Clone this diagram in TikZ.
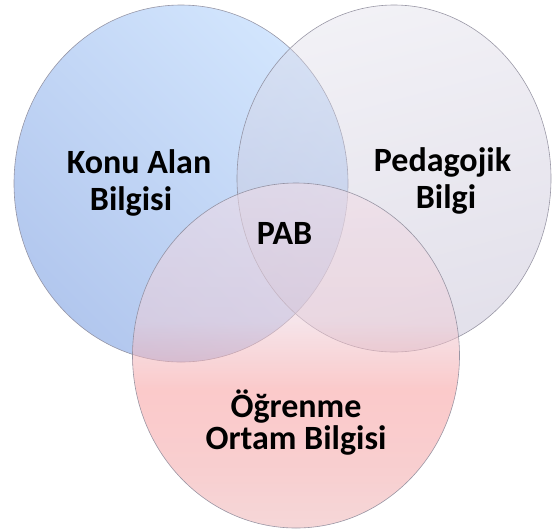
\documentclass[tikz,border=0pt]{standalone}
\usepackage{fontspec}
\setmainfont{Carlito}
\usetikzlibrary{shapes.geometric}
\definecolor{blueLo}{HTML}{B2C7EE}
\definecolor{blueHi}{HTML}{D2E5FD}
\definecolor{grayTop}{HTML}{DEDCE8}
\definecolor{grayBot}{HTML}{B8B2CC}
\definecolor{pinkTop}{HTML}{F0DCE6}
\definecolor{pinkUp}{HTML}{EECED8}
\definecolor{pinkMid}{HTML}{F79E9F}
\definecolor{pinkLow}{HTML}{F3A6A8}
\definecolor{pinkBot}{HTML}{EDB6B8}
\definecolor{ringline}{HTML}{8A8898}
% vertical fill of the learning-environment disc: pale in the overlaps,
% saturated pink just below them, softer again at the bottom
\pgfdeclareverticalshading{pinkfade}{100bp}{%
  color(0bp)=(pinkBot); color(25bp)=(pinkBot); color(34bp)=(pinkLow);
  color(45bp)=(pinkMid); color(55bp)=(pinkUp); color(75bp)=(pinkTop);
  color(100bp)=(pinkTop)}
\begin{document}
\begin{tikzpicture}[x=1pt,y=-1pt,
  setdisc/.style={ellipse, inner sep=0pt, outer sep=0pt,
    draw=ringline, draw opacity=0.85, line width=0.6pt},
  lbl/.style={font=\bfseries\fontsize{34}{40}\selectfont, anchor=base,
    inner sep=0pt, text=black}]
\useasboundingbox (0,0) rectangle (553,531);

% the three knowledge domains
\node[setdisc, minimum width=334pt, minimum height=357pt,
      top color=blueHi, bottom color=blueLo, shading angle=-45]
      (content) at (181,183.5) {};
\node[setdisc, minimum width=314pt, minimum height=347pt,
      top color=grayTop, bottom color=grayBot, shading angle=15,
      fill opacity=0.4]
      (pedagogy) at (394,178.5) {};
\node[setdisc, minimum width=327pt, minimum height=345pt,
      shade, shading=pinkfade, fill opacity=0.55]
      (environment) at (296,355.5) {};

% labels
\node[lbl] (contentA) at (139,173) {Konu Alan};
\node[lbl] (contentB) at (131,210) {Bilgisi};
\node[lbl] (pedagogyA) at (442.5,171) {Pedagojik};
\node[lbl] (pedagogyB) at (446,208) {Bilgi};
\node[lbl] (core) at (284.5,244) {PAB};
\node[lbl] (environmentA) at (296,417) {Öğrenme};
\node[lbl] (environmentB) at (296,449) {Ortam Bilgisi};
\end{tikzpicture}
\end{document}
